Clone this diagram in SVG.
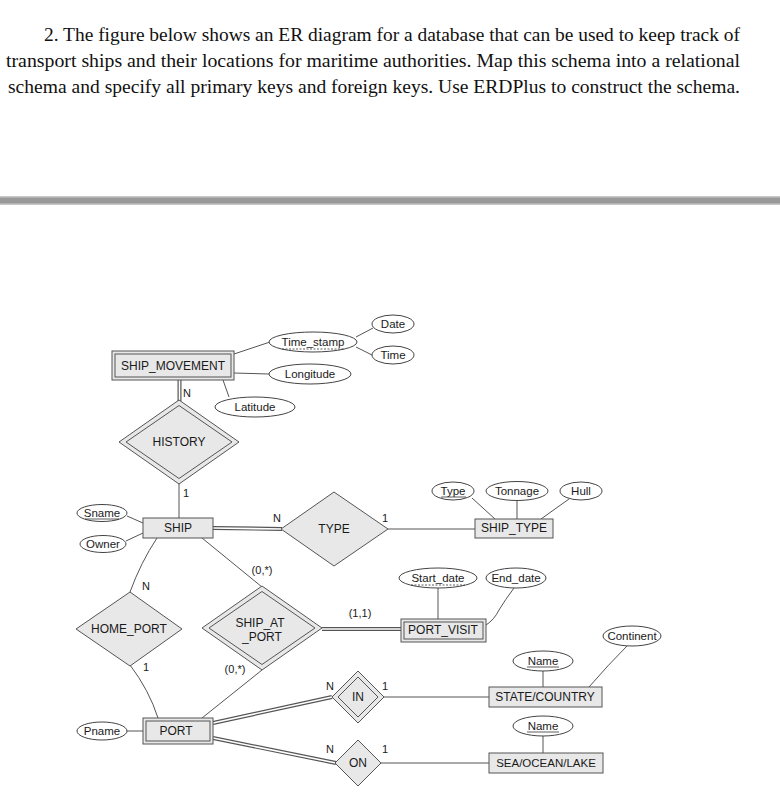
<svg xmlns="http://www.w3.org/2000/svg" width="780" height="792" viewBox="0 0 780 792">
<style>
.q{font-family:"Liberation Serif","DejaVu Serif",serif;font-size:18px;fill:#111}
.t{font-family:"Liberation Sans",Arial,sans-serif;font-size:12px;fill:#1a1a1a;text-anchor:middle}
.a{font-family:"Liberation Sans",Arial,sans-serif;font-size:11.5px;fill:#1a1a1a;text-anchor:middle}
.c{font-family:"Liberation Sans",Arial,sans-serif;font-size:11px;fill:#1a1a1a;text-anchor:middle}
.box{fill:#e8e8e8;stroke:#555;stroke-width:1}
.in{fill:none;stroke:#555;stroke-width:1}
.ell{fill:#fff;stroke:#444;stroke-width:1}
.ln{fill:none;stroke:#555;stroke-width:1}
.dbl{fill:none;stroke:#555;stroke-width:4;stroke-linecap:butt}
.dblw{fill:none;stroke:#fff;stroke-width:1.6;stroke-linecap:butt}
.u{stroke:#333;stroke-width:0.8}
.ud{stroke:#333;stroke-width:0.8;stroke-dasharray:2,1.5}
</style>
<rect width="780" height="792" fill="#fff"/>
<g id="question">
<text class="q" x="44" y="41" textLength="696" lengthAdjust="spacingAndGlyphs">2. The figure below shows an ER diagram for a database that can be used to keep track of</text>
<text class="q" x="6" y="67" textLength="734" lengthAdjust="spacingAndGlyphs">transport ships and their locations for maritime authorities. Map this schema into a relational</text>
<text class="q" x="8" y="93" textLength="732" lengthAdjust="spacingAndGlyphs">schema and specify all primary keys and foreign keys. Use ERDPlus to construct the schema.</text>
</g>
<g id="divider">
<rect x="0" y="196" width="780" height="9" fill="#c8c8c8"/>
<rect x="0" y="197.5" width="780" height="6" fill="#999"/>
</g>
<g id="connectors">
<line class="ln" x1="234" y1="354" x2="270" y2="342"/>
<line class="ln" x1="356" y1="337" x2="373" y2="328"/>
<line class="ln" x1="356" y1="347" x2="372" y2="355"/>
<line class="ln" x1="234" y1="373" x2="269" y2="374"/>
<line class="ln" x1="223" y1="380" x2="229" y2="397"/>
<line class="dbl" x1="179.5" y1="380" x2="179.5" y2="401"/>
<line class="dblw" x1="179.5" y1="380" x2="179.5" y2="401"/>
<line class="ln" x1="179" y1="484" x2="179" y2="518"/>
<line class="ln" x1="127" y1="516" x2="143" y2="523"/>
<line class="ln" x1="126" y1="541" x2="143" y2="533"/>
<line class="dbl" x1="213" y1="528" x2="282" y2="529"/>
<line class="dblw" x1="213" y1="528" x2="282" y2="529"/>
<line class="ln" x1="388" y1="529" x2="475" y2="529"/>
<line class="ln" x1="472" y1="498" x2="495" y2="519"/>
<line class="ln" x1="517" y1="501" x2="517" y2="519"/>
<line class="ln" x1="569" y1="499" x2="541" y2="519"/>
<path class="ln" d="M157,538 Q141,562 130,592"/>
<path class="ln" d="M130,665 Q149,690 158,718"/>
<line class="ln" x1="202" y1="538" x2="262" y2="587"/>
<line class="ln" x1="262" y1="670" x2="202" y2="718"/>
<line class="dbl" x1="322" y1="629" x2="401" y2="629"/>
<line class="dblw" x1="322" y1="629" x2="401" y2="629"/>
<line class="ln" x1="438" y1="588" x2="438" y2="619"/>
<path class="ln" d="M514,588 Q505,600 499,610 Q494,620 486,625"/>
<path class="ln" d="M627,646 Q608,665 589,687"/>
<line class="ln" x1="543" y1="671" x2="543" y2="687"/>
<line class="ln" x1="384" y1="697" x2="489" y2="697"/>
<line class="ln" x1="543" y1="736" x2="543" y2="753"/>
<line class="ln" x1="381" y1="763" x2="489" y2="763"/>
<line class="ln" x1="127" y1="731" x2="143" y2="731"/>
<line class="dbl" x1="213" y1="723" x2="332" y2="697"/>
<line class="dblw" x1="213" y1="723" x2="332" y2="697"/>
<line class="dbl" x1="213" y1="738" x2="336" y2="763"/>
<line class="dblw" x1="213" y1="738" x2="336" y2="763"/>
</g>
<g id="cardinalities">
<text class="c" x="187" y="397">N</text>
<text class="c" x="186" y="497">1</text>
<text class="c" x="277" y="522">N</text>
<text class="c" x="385" y="522">1</text>
<text class="c" x="146" y="590">N</text>
<text class="c" x="146" y="671">1</text>
<text class="c" x="262" y="574">(0,*)</text>
<text class="c" x="235" y="673">(0,*)</text>
<text class="c" x="360" y="617">(1,1)</text>
<text class="c" x="330" y="690">N</text>
<text class="c" x="385" y="690">1</text>
<text class="c" x="330" y="753">N</text>
<text class="c" x="385" y="753">1</text>
</g>
<g id="SHIP_MOVEMENT">
<rect class="box" x="112" y="351" width="122" height="29"/>
<rect class="in" x="115" y="354" width="116" height="23"/>
<text class="t" x="173" y="370">SHIP_MOVEMENT</text>
</g>
<g id="Time_stamp">
<ellipse class="ell" cx="313" cy="342" rx="44" ry="10"/>
<text class="a" x="313" y="346">Time_stamp</text>
<line class="ud" x1="282" y1="349" x2="345" y2="349"/>
</g>
<g id="Date">
<ellipse class="ell" cx="393" cy="324" rx="21" ry="9"/>
<text class="a" x="393" y="328">Date</text>
</g>
<g id="Time">
<ellipse class="ell" cx="393" cy="355" rx="21" ry="9"/>
<text class="a" x="393" y="359">Time</text>
</g>
<g id="Longitude">
<ellipse class="ell" cx="310" cy="374" rx="41" ry="10"/>
<text class="a" x="310" y="378">Longitude</text>
</g>
<g id="Latitude">
<ellipse class="ell" cx="255" cy="407" rx="40" ry="10"/>
<text class="a" x="255" y="411">Latitude</text>
</g>
<g id="HISTORY">
<polygon class="box" points="179,400 239,442 179,484 119,442"/>
<polygon class="in" points="179,405.5 232,442 179,478.5 126,442"/>
<text class="t" x="179" y="446">HISTORY</text>
</g>
<g id="SHIP">
<rect class="box" x="143" y="518" width="70" height="20"/>
<text class="t" x="178" y="532">SHIP</text>
</g>
<g id="Sname">
<ellipse class="ell" cx="102" cy="513" rx="25" ry="8.5"/>
<text class="a" x="102" y="517">Sname</text>
<line class="u" x1="85" y1="519" x2="119" y2="519"/>
</g>
<g id="Owner">
<ellipse class="ell" cx="103" cy="544" rx="23" ry="8.5"/>
<text class="a" x="103" y="548">Owner</text>
</g>
<g id="TYPE">
<polygon class="box" points="334,492 388,529 334,566 281,529"/>
<text class="t" x="334" y="533">TYPE</text>
</g>
<g id="SHIP_TYPE">
<rect class="box" x="475" y="519" width="78" height="19"/>
<text class="t" x="514" y="532">SHIP_TYPE</text>
</g>
<g id="Type">
<ellipse class="ell" cx="453" cy="491" rx="21" ry="9"/>
<text class="a" x="453" y="495">Type</text>
<line class="u" x1="441" y1="497" x2="466" y2="497"/>
</g>
<g id="Tonnage">
<ellipse class="ell" cx="517" cy="491" rx="31" ry="9.5"/>
<text class="a" x="517" y="495">Tonnage</text>
</g>
<g id="Hull">
<ellipse class="ell" cx="581" cy="491" rx="21" ry="9"/>
<text class="a" x="581" y="495">Hull</text>
</g>
<g id="HOME_PORT">
<polygon class="box" points="130,592 182,629 130,666 76,629"/>
<text class="t" x="129" y="633">HOME_PORT</text>
</g>
<g id="SHIP_AT_PORT">
<polygon class="box" points="262,586 322,628 262,670 202,628"/>
<polygon class="in" points="262,591.5 315,628 262,664.5 209,628"/>
<text class="t" x="260" y="627">SHIP_AT</text>
<text class="t" x="262" y="641">_PORT</text>
</g>
<g id="PORT_VISIT">
<rect class="box" x="401" y="619" width="85" height="23"/>
<rect class="in" x="404" y="622" width="79" height="17"/>
<text class="t" x="443" y="634">PORT_VISIT</text>
</g>
<g id="Start_date">
<ellipse class="ell" cx="438" cy="578" rx="39" ry="10"/>
<text class="a" x="438" y="582">Start_date</text>
<line class="ud" x1="411" y1="585" x2="465" y2="585"/>
</g>
<g id="End_date">
<ellipse class="ell" cx="516" cy="578" rx="30" ry="10"/>
<text class="a" x="516" y="582">End_date</text>
</g>
<g id="Continent">
<ellipse class="ell" cx="632" cy="636" rx="29" ry="10"/>
<text class="a" x="632" y="640">Continent</text>
</g>
<g id="Name_state">
<ellipse class="ell" cx="543" cy="661" rx="30" ry="10"/>
<text class="a" x="543" y="665">Name</text>
<line class="u" x1="527" y1="667" x2="559" y2="667"/>
</g>
<g id="STATE_COUNTRY">
<rect class="box" x="489" y="687" width="113" height="20"/>
<text class="t" x="545" y="701">STATE/COUNTRY</text>
</g>
<g id="IN">
<polygon class="box" points="358,671 384,697 358,723 332,697"/>
<polygon class="in" points="358,677 378,697 358,717 338,697"/>
<text class="t" x="358" y="701">IN</text>
</g>
<g id="Name_sea">
<ellipse class="ell" cx="543" cy="726" rx="30" ry="10"/>
<text class="a" x="543" y="730">Name</text>
<line class="u" x1="527" y1="732" x2="559" y2="732"/>
</g>
<g id="SEA_OCEAN_LAKE">
<rect class="box" x="489" y="753" width="114" height="20"/>
<text class="t" x="546" y="767" style="font-size:11.5px">SEA/OCEAN/LAKE</text>
</g>
<g id="ON">
<polygon class="box" points="358,740 381,763 358,786 335,763"/>
<text class="t" x="358" y="767">ON</text>
</g>
<g id="PORT">
<rect class="box" x="143" y="718" width="70" height="26"/>
<rect class="in" x="146" y="721" width="64" height="20"/>
<text class="t" x="176" y="735">PORT</text>
</g>
<g id="Pname">
<ellipse class="ell" cx="102" cy="731" rx="25" ry="9"/>
<text class="a" x="102" y="735">Pname</text>
</g>
</svg>
